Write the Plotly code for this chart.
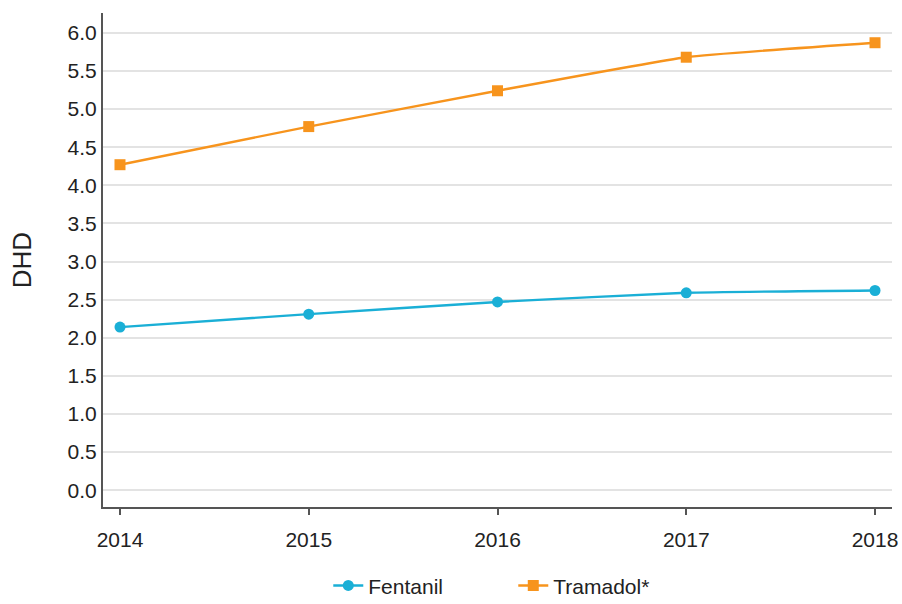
import plotly.graph_objects as go

years = [2014, 2015, 2016, 2017, 2018]
fentanil = [2.14, 2.31, 2.47, 2.59, 2.62]
tramadol = [4.27, 4.77, 5.24, 5.68, 5.87]
ytick_vals = [0.0, 0.5, 1.0, 1.5, 2.0, 2.5, 3.0, 3.5, 4.0, 4.5, 5.0, 5.5, 6.0]

fig = go.Figure()
fig.add_trace(go.Scatter(x=years, y=fentanil, name="Fentanil", mode="lines+markers",
                         line=dict(color="#1AAFD6", width=2.4, shape="spline", smoothing=0.4),
                         marker=dict(symbol="circle", size=11, color="#1AAFD6")))
fig.add_trace(go.Scatter(x=years, y=tramadol, name="Tramadol*", mode="lines+markers",
                         line=dict(color="#F7941D", width=2.4, shape="spline", smoothing=0.4),
                         marker=dict(symbol="square", size=11, color="#F7941D")))

fig.update_layout(
    width=902, height=604,
    margin=dict(l=103, r=10, t=13, b=97, autoexpand=False),
    paper_bgcolor="white", plot_bgcolor="white",
    font=dict(family="Liberation Sans, Arial, sans-serif", size=21, color="#222222"),
    showlegend=True,
    legend=dict(orientation="h", x=0.52, xanchor="center", y=-0.118, yanchor="top",
                font=dict(size=21), entrywidth=140, traceorder="normal",
                tracegroupgap=0),
    xaxis=dict(range=[2013.91, 2018.09], tickmode="array", tickvals=years,
               ticktext=[str(y) for y in years], showgrid=False, zeroline=False,
               showline=True, linecolor="#555555", linewidth=2, automargin=False,
               ticks="outside", ticklen=6, tickcolor="#555555", tickwidth=2,
               ticklabelstandoff=7, tickfont=dict(size=21)),
    yaxis=dict(range=[-0.22, 6.26], tickmode="array", tickvals=ytick_vals,
               ticktext=[f"{v:.1f}" for v in ytick_vals], showgrid=True,
               gridcolor="#E3E3E3", gridwidth=2, zeroline=False, automargin=False,
               showline=True, linecolor="#555555", linewidth=2, ticks="",
               tickfont=dict(size=21),
               title=dict(text="DHD", font=dict(size=26), standoff=28)),
)

fig.write_html("out.html", config={"displayModeBar": False},
               post_script="document.body.style.margin='0';document.body.style.overflow='hidden';")
